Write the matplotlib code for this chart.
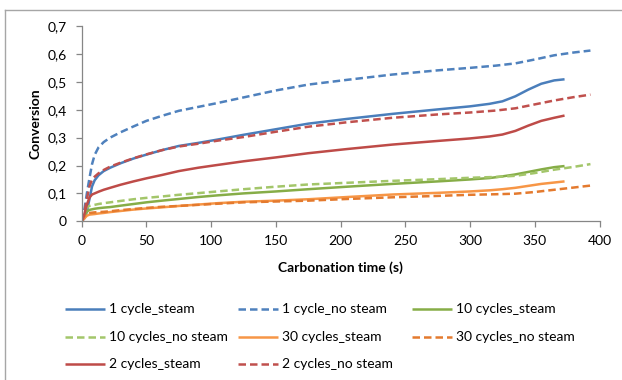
import matplotlib.pyplot as plt
from matplotlib.lines import Line2D

# tiempos de carbonatacion (s)
t_steam = [0, 2, 4, 6, 8, 10, 13, 17, 22, 30, 40, 50, 62, 75, 90, 105, 125, 150, 175, 205,
           240, 275, 300, 315, 325, 335, 345, 355, 365, 373]
t_nosteam = [0, 2, 4, 6, 8, 10, 13, 17, 22, 30, 40, 50, 62, 75, 90, 105, 125, 150, 175, 205,
             240, 275, 300, 320, 335, 350, 365, 380, 393]

# conversion por serie
c1_steam = [0, 0.01, 0.035, 0.08, 0.125, 0.147, 0.165, 0.18, 0.192, 0.208,
            0.225, 0.239, 0.255, 0.27, 0.281, 0.293, 0.31, 0.33, 0.35, 0.367,
            0.385, 0.401, 0.412, 0.421, 0.43, 0.448, 0.472, 0.493, 0.505, 0.509]
c1_nosteam = [0, 0.04, 0.1, 0.155, 0.205, 0.238, 0.265, 0.284, 0.3, 0.319,
              0.34, 0.36, 0.378, 0.396, 0.41, 0.424, 0.444, 0.469, 0.49, 0.507,
              0.526, 0.541, 0.55, 0.558, 0.566, 0.58, 0.595, 0.605, 0.612]
c10_steam = [0, 0.015, 0.035, 0.041, 0.043, 0.045, 0.047, 0.049, 0.051, 0.056,
             0.062, 0.068, 0.074, 0.08, 0.087, 0.093, 0.1, 0.107, 0.115, 0.124,
             0.134, 0.143, 0.15, 0.155, 0.161, 0.168, 0.177, 0.186, 0.194, 0.198]
c10_nosteam = [0, 0.032, 0.05, 0.055, 0.057, 0.059, 0.062, 0.065, 0.068, 0.073,
               0.079, 0.084, 0.089, 0.095, 0.101, 0.107, 0.115, 0.124, 0.132, 0.138,
               0.145, 0.151, 0.156, 0.159, 0.163, 0.173, 0.185, 0.195, 0.205]
c30_steam = [0, 0.01, 0.02, 0.024, 0.025, 0.026, 0.028, 0.03, 0.033, 0.037,
             0.042, 0.046, 0.05, 0.055, 0.06, 0.065, 0.07, 0.074, 0.079, 0.087,
             0.096, 0.102, 0.107, 0.111, 0.115, 0.12, 0.127, 0.134, 0.139, 0.143]
c30_nosteam = [0, 0.018, 0.027, 0.03, 0.031, 0.032, 0.033, 0.034, 0.036, 0.04,
               0.044, 0.048, 0.052, 0.055, 0.059, 0.063, 0.068, 0.071, 0.074, 0.08,
               0.086, 0.091, 0.095, 0.097, 0.099, 0.105, 0.113, 0.121, 0.128]
c2_steam = [0, 0.025, 0.06, 0.085, 0.096, 0.1, 0.106, 0.113, 0.12, 0.131,
            0.143, 0.154, 0.166, 0.18, 0.192, 0.202, 0.215, 0.229, 0.244, 0.259,
            0.275, 0.288, 0.297, 0.304, 0.311, 0.324, 0.343, 0.36, 0.371, 0.379]
c2_nosteam = [0, 0.03, 0.08, 0.125, 0.15, 0.16, 0.172, 0.184, 0.196, 0.21,
              0.226, 0.24, 0.255, 0.268, 0.278, 0.289, 0.302, 0.321, 0.339, 0.355,
              0.371, 0.383, 0.39, 0.397, 0.405, 0.419, 0.433, 0.445, 0.454]

labels = ["1 cycle_steam", "1 cycle_no steam", "10 cycles_steam",
          "10 cycles_no steam", "30 cycles_steam", "30 cycles_no steam",
          "2 cycles_steam", "2 cycles_no steam"]
xticks = [0, 50, 100, 150, 200, 250, 300, 350, 400]
yticks = [0, 0.1, 0.2, 0.3, 0.4, 0.5, 0.6, 0.7]
ytick_labels = ["0", "0,1", "0,2", "0,3", "0,4", "0,5", "0,6", "0,7"]

series = [
    (t_steam, c1_steam, "#4A7EBB", "-"),
    (t_nosteam, c1_nosteam, "#4F81BD", "--"),
    (t_steam, c10_steam, "#86AD47", "-"),
    (t_nosteam, c10_nosteam, "#A3C66A", "--"),
    (t_steam, c30_steam, "#F79646", "-"),
    (t_nosteam, c30_nosteam, "#E47A2E", "--"),
    (t_steam, c2_steam, "#BE4B48", "-"),
    (t_nosteam, c2_nosteam, "#C0504D", "--"),
]

plt.rcParams['font.family'] = ['Lato', 'DejaVu Sans']
W, H = 622, 380
fig = plt.figure(figsize=(W / 100, H / 100), dpi=100)
ax = fig.add_axes([81.7 / W, 1 - 221.3 / H, (599.5 - 81.7) / W, (221.3 - 26) / H])

lw = 1.8
dash = (3.0, 1.6)
for (t, c, col, ls) in series:
    line, = ax.plot(t, c, color=col, linewidth=lw, solid_capstyle="butt",
                    solid_joinstyle="round")
    if ls == "--":
        line.set_dashes(dash)

ax.set_xlim(0, 400)
ax.set_ylim(0, 0.7)
ax.set_xticks(xticks)
ax.set_yticks(yticks)
ax.set_yticklabels(ytick_labels)
for s in ["top", "right"]:
    ax.spines[s].set_visible(False)
for s in ["left", "bottom"]:
    ax.spines[s].set_color("#868686")
    ax.spines[s].set_linewidth(0.9)
ax.tick_params(direction="out", length=4, width=0.9, color="#868686",
               labelsize=10, labelcolor="black")
ax.tick_params(axis="x", pad=6)
ax.tick_params(axis="y", pad=7)
ax.set_xlabel("Carbonation time (s)", fontsize=10, fontweight="bold", labelpad=10)
ax.set_ylabel("Conversion", fontsize=10, fontweight="bold", labelpad=4)

# leyenda en filas, estilo Excel
col_x = [65, 238, 412]
row_y = [309, 337, 364]
for i, ((t, c, col, ls), lab) in enumerate(zip(series, labels)):
    r, k = divmod(i, 3)
    x0, y0 = col_x[k], row_y[r]
    ln = Line2D([x0 / W, (x0 + 40) / W], [1 - y0 / H, 1 - y0 / H],
                transform=fig.transFigure, color=col, linewidth=lw,
                solid_capstyle="butt")
    if ls == "--":
        ln.set_dashes(dash)
    fig.add_artist(ln)
    fig.text((x0 + 44) / W, 1 - y0 / H, lab, fontsize=10, va="center", ha="left")

# marco del grafico
fig.add_artist(Line2D([5 / W, 1], [1 - 9.5 / H, 1 - 9.5 / H], transform=fig.transFigure,
                      color="#A6A6A6", linewidth=1))
fig.add_artist(Line2D([5 / W, 5 / W], [0, 1 - 9.5 / H], transform=fig.transFigure,
                      color="#A6A6A6", linewidth=1))

fig.savefig("out.png", dpi=100)
